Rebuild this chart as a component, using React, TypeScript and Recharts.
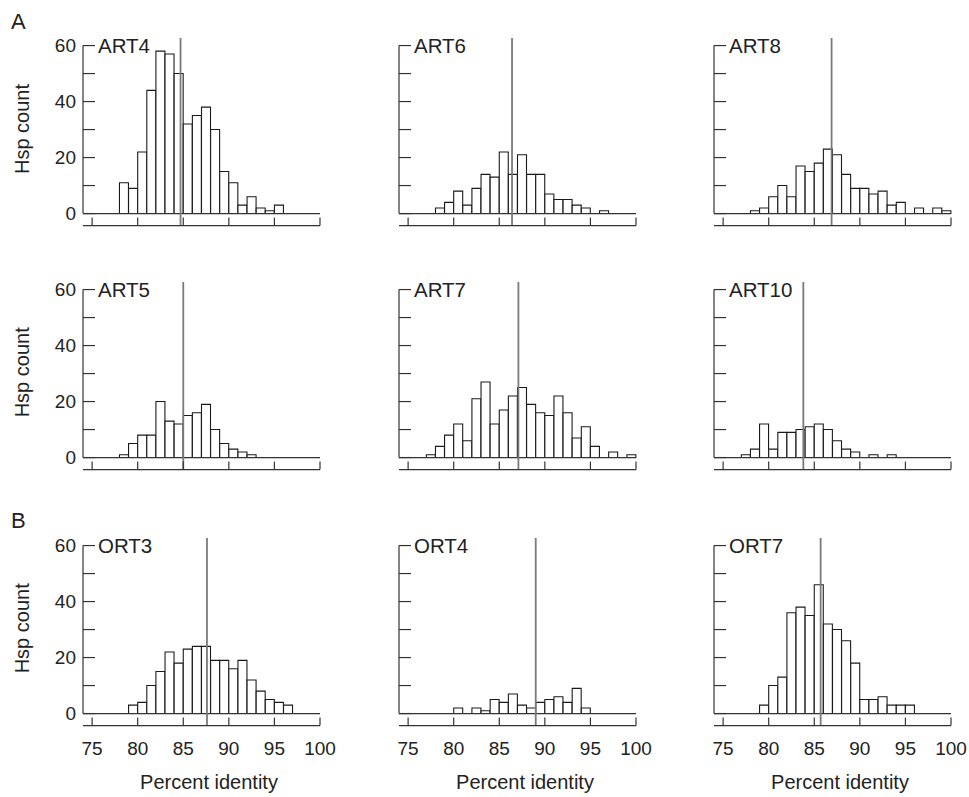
import React from 'react';
import { BarChart, Bar, XAxis, YAxis, ReferenceLine } from 'recharts';

// 1% identity bins, left edges
const BINS = [74, 75, 76, 77, 78, 79, 80, 81, 82, 83, 84, 85, 86, 87, 88, 89, 90, 91, 92, 93, 94, 95, 96, 97, 98, 99];

const ART4 = [0, 0, 0, 0, 11, 9, 22, 44, 58, 57, 50, 32, 35, 38, 30, 15, 11, 3, 6, 2, 1, 3, 0, 0, 0, 0];
const ART6 = [0, 0, 0, 0, 2, 4, 8, 3, 9, 14, 13, 22, 14, 21, 14, 14, 7, 5, 5, 3, 2, 0, 1, 0, 0, 0];
const ART8 = [0, 0, 0, 0, 1, 2, 6, 10, 6, 17, 15, 18, 23, 21, 14, 9, 9, 7, 8, 3, 4, 0, 2, 0, 2, 1];
const ART5 = [0, 0, 0, 0, 1, 5, 8, 8, 20, 13, 12, 15, 16, 19, 10, 5, 3, 2, 1, 0, 0, 0, 0, 0, 0, 0];
const ART7 = [0, 0, 0, 1, 4, 8, 12, 6, 21, 27, 12, 17, 22, 25, 19, 16, 15, 22, 16, 7, 11, 4, 0, 2, 0, 1];
const ART10 = [0, 0, 0, 1, 3, 12, 3, 9, 9, 10, 11, 12, 10, 6, 3, 2, 0, 1, 0, 1, 0, 0, 0, 0, 0, 0];
const ORT3 = [0, 0, 0, 0, 0, 3, 4, 10, 15, 22, 18, 23, 24, 24, 19, 19, 16, 19, 12, 8, 5, 4, 3, 0, 0, 0];
const ORT4 = [0, 0, 0, 0, 0, 0, 2, 0, 2, 1, 5, 4, 7, 3, 2, 4, 5, 6, 4, 9, 2, 0, 0, 0, 0, 0];
const ORT7 = [0, 0, 0, 0, 0, 3, 10, 13, 36, 38, 35, 46, 32, 30, 26, 18, 5, 5, 6, 3, 3, 3, 0, 0, 0, 0];

const PANEL_NAMES = ['ART4', 'ART6', 'ART8', 'ART5', 'ART7', 'ART10', 'ORT3', 'ORT4', 'ORT7'];
const PANEL_COUNTS = [ART4, ART6, ART8, ART5, ART7, ART10, ORT3, ORT4, ORT7];
const MEANS = [84.7, 86.4, 86.9, 85.0, 87.1, 83.8, 87.6, 89.0, 85.7];

const X_TICKS = [75, 80, 85, 90, 95, 100];
const Y_TICKS = [0, 10, 20, 30, 40, 50, 60];
const Y_LABELS = [0, 20, 40, 60];

// layout
const AXIS_X = [83, 399, 714];
const BASELINE_Y = [214, 457.3, 713.3];
const PLOT_W = 237;
const Y_MIN = -4.3;
const Y_MAX = 62.7;
const PX_PER_COUNT = 2.8;
const PLOT_H = (Y_MAX - Y_MIN) * PX_PER_COUNT;
const ML = 80; // plot left inside each chart
const MR = 20;
const MT = 10;
const MB = 45; // room below plot
const Y_AXIS_W = 60;
const X_AXIS_H = 35;

const AXIS = '#333';
const TEXT = '#222';
const FONT = "'Liberation Sans', Arial, sans-serif";

function Panel({ idx }: { idx: number }) {
  const row = Math.floor(idx / 3);
  const col = idx % 3;
  const name = PANEL_NAMES[idx];
  const counts = PANEL_COUNTS[idx];
  const data = BINS.map((bin, i) => ({ bin, count: counts[i] }));
  const left = AXIS_X[col] - ML;
  const top = BASELINE_Y[row] - Y_MAX * PX_PER_COUNT - MT;
  const axisY = MT + PLOT_H;

  const yTick = (props: any) => {
    const { y, payload } = props;
    return (
      <g>
        <line x1={ML} x2={ML + 12} y1={y} y2={y} stroke={AXIS} strokeWidth={1.2} />
        {col === 0 && Y_LABELS.includes(payload.value) && (
          <text x={ML - 7} y={y} textAnchor="end" dominantBaseline="central" fontSize={19} fill={TEXT} fontFamily={FONT}>
            {payload.value}
          </text>
        )}
        {payload.value === 60 && (
          <text x={ML + 15} y={y} dominantBaseline="central" fontSize={20.5} fill={TEXT} fontFamily={FONT}>
            {name}
          </text>
        )}
      </g>
    );
  };

  const xTick = (props: any) => {
    const { x, payload } = props;
    return (
      <g>
        <line x1={x} x2={x} y1={axisY} y2={axisY - 8} stroke={AXIS} strokeWidth={1.2} />
        {row === 2 && (
          <text x={x} y={axisY + 29} textAnchor="middle" fontSize={19} fill={TEXT} fontFamily={FONT}>
            {payload.value}
          </text>
        )}
      </g>
    );
  };

  return (
    <div style={{ position: 'absolute', left, top }}>
      <BarChart
        width={ML + PLOT_W + MR}
        height={MT + PLOT_H + MB}
        data={data}
        margin={{ top: MT, right: MR, bottom: MB - X_AXIS_H, left: ML - Y_AXIS_W }}
        barCategoryGap={0}
        barGap={0}
      >
        <XAxis xAxisId="cat" dataKey="bin" type="category" hide padding={{ left: 0, right: 0 }} />
        <XAxis
          dataKey="bin"
          type="number"
          domain={[74, 100]}
          allowDataOverflow
          ticks={X_TICKS}
          interval={0}
          height={X_AXIS_H}
          axisLine={{ stroke: AXIS, strokeWidth: 1.2 }}
          tickLine={false}
          tick={xTick}
        />
        <YAxis
          type="number"
          domain={[Y_MIN, Y_MAX]}
          allowDataOverflow
          ticks={Y_TICKS}
          interval={0}
          width={Y_AXIS_W}
          axisLine={false}
          tickLine={false}
          tick={yTick}
        />
        <Bar xAxisId="cat" dataKey="count" fill="#fff" stroke="#1a1a1a" strokeWidth={1.1} isAnimationActive={false} />
        <ReferenceLine y={0} stroke={AXIS} strokeWidth={1.2} />
        <ReferenceLine segment={[{ x: 74, y: 0 }, { x: 74, y: 60 }]} stroke={AXIS} strokeWidth={1.2} />
        <ReferenceLine x={MEANS[idx]} stroke="#7a7a7a" strokeWidth={1.8} />
      </BarChart>
    </div>
  );
}

export default function App() {
  return (
    <div style={{ position: 'absolute', left: 0, top: 0, width: 969, height: 797, background: '#fff', fontFamily: FONT }}>
      {PANEL_NAMES.map((_, i) => (
        <Panel key={i} idx={i} />
      ))}
      <svg width={969} height={797} style={{ position: 'absolute', left: 0, top: 0, pointerEvents: 'none' }}>
        <text x={11} y={29} fontSize={22} fill={TEXT} fontFamily={FONT}>A</text>
        <text x={11} y={528} fontSize={22} fill={TEXT} fontFamily={FONT}>B</text>
        {BASELINE_Y.map((b, r) => (
          <text
            key={r}
            x={0}
            y={0}
            transform={`translate(22, ${b - 85}) rotate(-90)`}
            textAnchor="middle"
            dominantBaseline="central"
            fontSize={20}
            fill={TEXT}
            fontFamily={FONT}
          >
            Hsp count
          </text>
        ))}
        {AXIS_X.map((ax, c) => (
          <text key={c} x={ax + 126} y={789} textAnchor="middle" fontSize={20} fill={TEXT} fontFamily={FONT}>
            Percent identity
          </text>
        ))}
      </svg>
    </div>
  );
}
